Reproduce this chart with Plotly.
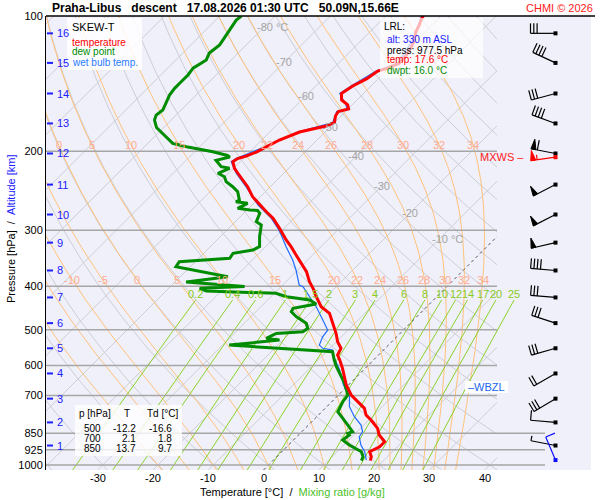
import numpy as np
import plotly.graph_objects as go

FONT = "Arial, Liberation Sans, sans-serif"

# ── sounding (hPa / degC) ──────────────────────────────────────
temp_p = [100, 102.1, 104.7, 108.4, 113.1, 117.0, 122.1, 127.4, 130.7, 132.6,
          138.1, 143.2, 148.8, 153.8, 157.8, 161.1, 163.2, 167.0, 172.7, 175.8,
          177.9, 181.3, 188.9, 194.3, 200.9, 205.2, 207.7, 211.1, 218.4, 224.0,
          231.9, 240.0, 252.6, 263.6, 272.8, 282.2, 297.1, 315.4, 326.4, 340.6,
          355.4, 371.0, 390.2, 404.1, 421.9, 444.1, 459.4, 483.6, 509.0, 531.4,
          549.7, 568.9, 583.7, 609.1, 663.6, 698.5, 722.9, 747.8, 773.9, 794.0,
          828.6, 857.6, 887.6, 910.6, 934.3, 958.6, 977.5]
temp_t = [-53.2, -52.9, -52.3, -51.7, -50.5, -49.8, -49.2, -49.0, -50.2, -51.5,
          -52.1, -53.3, -54.0, -52.8, -50.8, -49.9, -51.3, -51.0, -50.0, -50.9,
          -52.3, -54.6, -56.8, -57.6, -58.8, -59.9, -61.0, -61.3, -59.8, -58.3,
          -56.2, -54.1, -51.4, -48.6, -46.2, -43.8, -40.8, -37.5, -35.4, -33.0,
          -30.6, -28.1, -25.8, -23.9, -21.8, -19.1, -16.4, -14.0, -11.6, -9.8,
          -8.0, -7.4, -6.1, -4.1, -0.4, 2.3, 4.7, 7.1, 8.6, 10.4,
          13.1, 14.6, 16.8, 16.8, 15.9, 17.1, 17.6]

dewp_p = [100, 102.1, 107.4, 113.1, 116.0, 120.9, 125.3, 130.7, 135.3, 141.2,
          144.9, 150.0, 156.5, 162.0, 166.2, 170.5, 177.1, 184.1, 192.1, 195.5,
          200.6, 204.5, 206.1, 209.6, 216.6, 218.4, 224.0, 228.0, 233.9, 240.0,
          246.2, 256.9, 259.2, 261.3, 268.1, 270.4, 271.1, 275.0, 287.2, 292.1,
          310.1, 326.4, 332.0, 337.6, 346.4, 352.5, 361.7, 380.7, 391.2, 400.4,
          404.1, 409.7, 414.6, 421.9, 429.0, 437.9, 447.7, 455.6, 467.4, 483.6,
          496.2, 505.0, 509.2, 522.4, 527.0, 540.6, 554.7, 559.5, 583.7, 604.0,
          657.8, 698.5, 722.9, 761.0, 787.1, 814.6, 843.2, 850.1, 857.6, 879.9,
          902.7, 934.3, 958.6, 977.5]
dewp_t = [-86.1, -86.3, -85.7, -85.1, -84.8, -85.2, -84.5, -85.4, -85.1, -85.1,
          -85.1, -84.8, -83.9, -83.3, -83.6, -83.0, -81.3, -78.5, -75.5, -72.4,
          -66.7, -63.4, -62.7, -64.6, -62.5, -60.7, -61.9, -60.1, -58.9, -56.8,
          -55.0, -53.2, -53.5, -51.1, -52.0, -49.5, -48.0, -47.1, -46.2, -44.7,
          -42.9, -41.1, -41.7, -44.7, -44.4, -52.9, -52.6, -41.4, -48.0, -36.6,
          -44.4, -42.7, -29.7, -27.2, -22.4, -20.5, -23.9, -23.6, -21.8, -18.8,
          -17.6, -17.9, -22.4, -23.3, -20.6, -28.8, -15.2, -8.9, -7.1, -5.5,
          -1.0, 1.7, 2.0, 2.9, 5.0, 7.1, 9.2, 8.6, 9.2, 8.9,
          11.0, 14.4, 15.6, 16.0]

wetb_p = [100, 113.1, 127.4, 132.6, 143.2, 148.8, 157.8, 161.1, 163.2, 172.7,
          181.3, 194.3, 207.7, 211.1, 224.0, 240.0, 263.6, 282.2, 297.1, 307.4,
          326.4, 349.5, 367.8, 380.7, 397.3, 400.8, 432.8, 444.1, 475.4, 500.6,
          518.1, 540.6, 549.7, 554.7, 578.6, 614.5, 663.6, 704.6, 741.7, 780.6,
          814.6, 843.2, 865.2, 902.7, 934.3, 975.1]
wetb_t = [-53.5, -50.8, -49.3, -51.8, -53.6, -54.3, -51.1, -50.2, -51.6, -50.3,
          -54.9, -57.9, -61.3, -61.6, -58.6, -54.4, -48.9, -44.1, -41.1, -39.3,
          -36.3, -32.7, -30.3, -28.8, -27.0, -26.0, -21.5, -20.0, -16.4, -13.7,
          -13.4, -12.5, -11.3, -9.2, -7.4, -4.3, -0.9, 2.3, 4.1, 6.8,
          9.5, 11.0, 11.3, 13.1, 15.0, 16.8]

# standard level table
table_p = [500, 700, 850]
table_t = [-12.2, 2.1, 13.7]
table_td = [-16.6, 1.8, 9.7]

# lowest reported level
lrl_alt, lrl_p, lrl_t, lrl_td = 330, 977.5, 17.6, 16.0
wbzl_p = 670

# altitude marks (km) and the winds drawn at them
km_levels = [16, 15, 14, 13, 12, 11, 10, 9, 8, 7, 6, 5, 4, 3, 2, 1]
km_p = [109.3, 127.2, 148.8, 173.5, 202.4, 237.4, 276.8, 319.7, 368.8, 423.5,
        483.1, 549.6, 625.4, 711.6, 803.8, 905.0]
wind_dir = [270, 295, 255, 290, 281, 243, 243, 257, 275, 275, 288, 254, 240, 239, 275, 281]
wind_kt = [30, 40, 30, 40, 60, 50, 50, 50, 40, 30, 30, 30, 20, 30, 10, 3]
sfc_wind = (975.0, 337, 10)
mxws_wind = (206.3, 262, 55)

# diagram grid
iso_t = list(range(-120, 41, 10))
dry_theta = list(range(-40, 181, 10))
theta_w = [-20, -15, -10, -5, 0, 5, 10, 15, 20, 22, 24, 26, 28, 30, 32, 34]
tw_lab_hi = [0, 5, 10, 15, 20, 22, 24, 26, 28, 30, 32, 34]
tw_lab_lo = [-10, -5, 0, 5, 10, 15, 20, 22, 24, 26, 28, 30, 32, 34]
mix_w = [0.2, 0.4, 0.6, 1, 1.5, 2, 3, 4, 6, 8, 10, 12, 14, 17, 20, 25]
mix_lab = ["0.2", "0.4", "0.6", "1", "1.5", "2", "3", "4", "6", "8", "10", "12", "14", "17", "20", "25"]
p_lines = [200, 300, 400, 500, 600, 700, 850, 925, 1000]
iso_lab_t = [-80, -70, -60, -50, -40, -30, -20, -10]
iso_lab_p = [105.8, 126.6, 150.5, 177.0, 205.0, 239.1, 274.6, 313.8]
x_ticks = list(range(-30, 41, 10))

# ── geometry ───────────────────────────────────────────────────
P_BOT = 1026.0
SKEW = 81.2
PX_X, PX_DEC = 5.53, 449.0
X_MIN, X_MAX = (46 - 263.5) / PX_X, (591 - 263.5) / PX_X
X_GRID = (497 - 263.5) / PX_X
X_LOW = (545 - 263.5) / PX_X
X_WIND = (555.5 - 263.5) / PX_X
RD, CP, LV, EPS = 287.04, 1005.7, 2.501e6, 0.622


def skx(t, p):
    return np.asarray(t, float) + SKEW * np.log10(P_BOT / np.asarray(p, float))


def ppx(x):
    return (x - 46) / 545


def ppy(y):
    return (470 - y) / 454


def clip(xs, ps, xmax=X_GRID):
    ox, op = [], []
    lp = np.log10(ps)
    for i in range(len(xs)):
        inside = xs[i] <= xmax
        if i > 0 and inside != (xs[i - 1] <= xmax):
            f = (xmax - xs[i - 1]) / (xs[i] - xs[i - 1])
            ox.append(xmax)
            op.append(10 ** (lp[i - 1] + f * (lp[i] - lp[i - 1])))
            if not inside:
                ox.append(None)
                op.append(None)
        if inside:
            ox.append(float(xs[i]))
            op.append(float(ps[i]))
    return ox + [None], op + [None]


def lapse(tk, p):
    es = 6.112 * np.exp(17.67 * (tk - 273.15) / (tk - 29.65))
    rs = EPS * es / (p - es)
    return (RD * tk + LV * rs) / (CP + LV * LV * rs * EPS / (RD * tk * tk))


def moist(tw):
    parts = []
    for p_end in (P_BOT, 100.0):
        lnp = np.linspace(np.log(1000.0), np.log(p_end), 160)
        tk = tw + 273.15
        ts = [tk]
        for a, b in zip(lnp[:-1], lnp[1:]):
            h = b - a
            k1 = lapse(tk, np.exp(a))
            k2 = lapse(tk + h * k1 / 2, np.exp(a + h / 2))
            k3 = lapse(tk + h * k2 / 2, np.exp(a + h / 2))
            k4 = lapse(tk + h * k3, np.exp(b))
            tk += h * (k1 + 2 * k2 + 2 * k3 + k4) / 6
            ts.append(tk)
        parts.append((np.exp(lnp), np.array(ts) - 273.15))
    p = np.concatenate([parts[0][0][::-1], parts[1][0][1:]])
    t = np.concatenate([parts[0][1][::-1], parts[1][1][1:]])
    return p, t


def mix_t(w, p):
    e = w * p / (622.0 + w)
    g = np.log(e / 6.112)
    return 243.5 * g / (17.67 - g)


fig = go.Figure()


def add_line(xs, ps, color, width=1.0, dash=None, fill=None):
    fig.add_trace(go.Scatter(x=xs, y=ps, mode="lines", hoverinfo="skip", showlegend=False,
                             line=dict(color=color, width=width, dash=dash),
                             fill=fill, fillcolor=color if fill else None))


def note(x, y, text, color="black", size=11, xanchor="center", xref="x", yref="y", angle=0):
    fig.add_annotation(x=x, y=y, xref=xref, yref=yref, text=text, showarrow=False,
                       xanchor=xanchor, yanchor="middle", textangle=angle,
                       font=dict(family=FONT, size=size, color=color))


# ── grid ───────────────────────────────────────────────────────
pg = np.geomspace(P_BOT, 100, 120)

gx, gp = [], []
for t in iso_t:
    if t == 0:
        continue
    a, b = clip(skx(t, pg), pg)
    gx += a
    gp += b
for th in dry_theta:
    tt = (th + 273.15) * (pg / 1000.0) ** 0.2857 - 273.15
    a, b = clip(skx(tt, pg), pg)
    gx += a
    gp += b
add_line(gx, gp, "#cdcdd4", 1)

mx, mp = [], []
moist_curves = {}
for tw in theta_w:
    p, t = moist(tw)
    moist_curves[tw] = (p, t)
    a, b = clip(skx(t, p), p)
    mx += a
    mp += b
add_line(mx, mp, "#ffc27a", 1)

pm = np.geomspace(P_BOT, 429, 60)
wx, wp = [], []
for w in mix_w:
    wx += list(skx(mix_t(w, pm), pm)) + [None]
    wp += list(pm) + [None]
add_line(wx, wp, "#8ad22a", 1)

a, b = clip(skx(0, pg), pg)
add_line(a, b, "#555555", 1, dash="dot")

hx, hp = [], []
for p in p_lines:
    hx += [X_MIN, X_LOW if p >= 850 else X_GRID, None]
    hp += [p, p, None]
add_line(hx, hp, "#a6a6a6", 1.5)

# ── profiles ───────────────────────────────────────────────────
add_line(list(skx(wetb_t, wetb_p)), wetb_p, "#1f6bff", 1.2)
add_line(list(skx(dewp_t, dewp_p)), dewp_p, "#008c00", 3)
add_line(list(skx(temp_t, temp_p)), temp_p, "#ff0000", 3)

# ── altitude marks ─────────────────────────────────────────────
kx, kp = [], []
for km, p in zip(km_levels, km_p):
    kx += [(47 - 263.5) / PX_X, (53 - 263.5) / PX_X, None]
    kp += [p, p, None]
    note(ppx(55), np.log10(p), str(km), "#2020ff", 11, "left", xref="paper")
add_line(kx, kp, "#2020ff", 2)


# ── wind barbs ─────────────────────────────────────────────────
def barb(p0, d, spd, color):
    r = np.radians(d)
    sx, sy = np.sin(r), -np.cos(r)
    bx, by = -sy, sx
    lines, flags = [], []
    lines.append([(0, 0), (25 * sx, 25 * sy)])
    pos = 25.0
    n50, rest = divmod(int(round(spd / 5.0) * 5), 50)
    n10, n5 = divmod(rest, 10)
    n5 //= 5
    for _ in range(n50):
        flags.append([(pos * sx, pos * sy), ((pos - 2) * sx + 10 * bx, (pos - 2) * sy + 10 * by),
                      ((pos - 5) * sx, (pos - 5) * sy), (pos * sx, pos * sy)])
        pos -= 6.5
    for _ in range(n10):
        lines.append([(pos * sx, pos * sy), (pos * sx + 10 * bx, pos * sy + 10 * by)])
        pos -= 3.3
    for _ in range(n5):
        lines.append([(pos * sx, pos * sy), (pos * sx + 5 * bx, pos * sy + 5 * by)])

    def conv(seg):
        xs = [X_WIND + dx / PX_X for dx, dy in seg] + [None]
        ps = [p0 * 10 ** (dy / PX_DEC) for dx, dy in seg] + [None]
        return xs, ps

    lx, lp = [], []
    for seg in lines:
        a, b = conv(seg)
        lx += a
        lp += b
    add_line(lx, lp, color, 1.2)
    if flags:
        fx, fp = [], []
        for seg in flags:
            a, b = conv(seg)
            fx += a
            fp += b
        add_line(fx, fp, color, 1, fill="toself")
    fig.add_trace(go.Scatter(x=[X_WIND], y=[p0], mode="markers", hoverinfo="skip", showlegend=False,
                             marker=dict(symbol="square", size=4, color=color)))


for p, d, s in zip(km_p, wind_dir, wind_kt):
    barb(p, d, s, "black")
barb(*mxws_wind, "#ff0000")
barb(*sfc_wind, "#1010ff")

# ── labels on the grid ─────────────────────────────────────────
for t, p in zip(iso_lab_t, iso_lab_p):
    if t in (-80, -10):
        note(float(skx(t, p)) - 1.6, np.log10(p), f"{t} °C", "#a4a4a4", 11, "left")
    else:
        note(float(skx(t, p)), np.log10(p), str(t), "#a4a4a4", 11)

for labs, plab in ((tw_lab_hi, 194.0), (tw_lab_lo, 387.0)):
    for tw in labs:
        p, t = moist_curves[tw]
        tl = np.interp(np.log(plab), np.log(p[::-1]), t[::-1])
        note(float(skx(tl, plab)), np.log10(plab), str(tw), "#ffab8e", 11)

for w, lab in zip(mix_w, mix_lab):
    note(float(skx(mix_t(w, 429.0), 429.0)), np.log10(417), lab, "#88cc22", 11)

# temperature tick labels, along the lower edge
for t in x_ticks:
    note(t, ppy(478), str(t), "black", 11, "center", "x", "paper")

# white boxes
boxes = [(67, 18, 142, 70, 0.85), (380, 18, 483, 78, 0.7), (75, 405, 182, 456, 0.8)]
for x0, y0, x1, y1, op in boxes:
    fig.add_shape(type="rect", xref="paper", yref="paper", x0=ppx(x0), x1=ppx(x1),
                  y0=ppy(y1), y1=ppy(y0), line_width=0, layer="above",
                  fillcolor=f"rgba(255,255,255,{op})")
fig.add_shape(type="rect", xref="paper", yref="paper", x0=ppx(465), x1=ppx(508),
              y0=ppy(393), y1=ppy(381), line_width=0, layer="above", fillcolor="white")
fig.add_shape(type="line", xref="paper", yref="paper", x0=0, x1=ppx(595), y0=1, y1=1,
              line=dict(color="black", width=1.5))

# legend
note(ppx(70), ppy(27), "SKEW-T", "black", 11, "left", "paper", "paper")
note(ppx(70), ppy(42), "temperature", "#ff0000", 10, "left", "paper", "paper")
note(ppx(70), ppy(52), "dew point", "#008c00", 10, "left", "paper", "paper")
note(ppx(70), ppy(62), "wet bulb temp.", "#2a7bff", 10, "left", "paper", "paper")

# LRL box
note(ppx(382), ppy(27), "LRL:", "black", 10, "left", "paper", "paper")
note(ppx(385), ppy(40), f"alt: {lrl_alt} m ASL", "#2020ff", 10, "left", "paper", "paper")
note(ppx(385), ppy(50), f"press: {lrl_p} hPa", "black", 10, "left", "paper", "paper")
note(ppx(385), ppy(60), f"temp: {lrl_t} °C", "#ff0000", 10, "left", "paper", "paper")
note(ppx(385), ppy(70), f"dwpt: {lrl_td} °C", "#008c00", 10, "left", "paper", "paper")

# table
note(ppx(77), ppy(413), "p [hPa]", "black", 10, "left", "paper", "paper")
note(ppx(127), ppy(413), "T", "black", 10, "center", "paper", "paper")
note(ppx(145), ppy(413), "Td [°C]", "black", 10, "left", "paper", "paper")
for i, (p, t, td) in enumerate(zip(table_p, table_t, table_td)):
    y = ppy(428 + 10 * i)
    note(ppx(103), y, str(p), "black", 10, "right", "paper", "paper")
    note(ppx(138), y, f"{t:.1f}", "black", 10, "right", "paper", "paper")
    note(ppx(174), y, f"{td:.1f}", "black", 10, "right", "paper", "paper")

note(ppx(466), np.log10(wbzl_p), "–WBZL", "#2266ee", 11, "left", xref="paper")
note(ppx(526), np.log10(mxws_wind[0]), "MXWS –", "#ff2020", 11, "right", xref="paper")

# title and axis titles
sp = "\u00a0" * 3
note(ppx(50), ppy(8), f"<b>Praha-Libus{sp}descent{sp}17.08.2026 01:30 UTC{sp}50.09N,15.66E</b>",
     "black", 12, "left", "paper", "paper")
note(ppx(595), ppy(8), "CHMI © 2026", "#ff2020", 11, "right", "paper", "paper")
note(ppx(11), ppy(229),
     "Pressure [hPa]\u00a0\u00a0/\u00a0\u00a0<span style='color:#2020ff'>Altitude [km]</span>",
     "black", 11, "center", "paper", "paper", angle=-90)
note(ppx(292), ppy(492),
     "Temperature [°C]\u00a0\u00a0/\u00a0\u00a0<span style='color:#4cbf2a'>Mixing ratio [g/kg]</span>",
     "black", 11, "center", "paper", "paper")

fig.update_layout(
    width=600, height=500,
    margin=dict(l=46, r=9, t=16, b=30),
    paper_bgcolor="white", plot_bgcolor="#f0f0fa",
    font=dict(family=FONT, size=11, color="black"),
    xaxis=dict(range=[X_MIN, X_MAX], showticklabels=False, ticks="",
               showgrid=False, zeroline=False, showline=False, automargin=False),
    yaxis=dict(type="log", range=[np.log10(P_BOT), 2], tickvals=[100, 200, 300, 400, 500, 600, 700, 850, 925, 1000],
               ticktext=["100", "200", "300", "400", "500", "600", "700", "850", "925", "1000"],
               ticks="", showgrid=False, zeroline=False, showline=True, linecolor="black", linewidth=1,
               automargin=False, tickfont=dict(size=11)),
    showlegend=False,
)

# the page's default body margin would push the figure off its 600x500 frame
fig.write_html("out.html", config={"displayModeBar": False},
               post_script="document.body.style.margin='0';")
